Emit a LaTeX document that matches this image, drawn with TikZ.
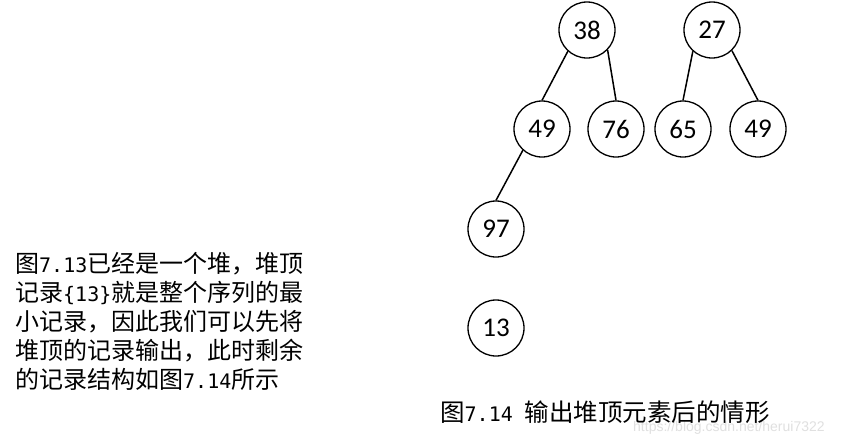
\documentclass[tikz,border=0pt]{standalone}
\usepackage{fontspec}
\setmainfont{Noto Sans CJK SC}
\newfontfamily\cjkfont{Noto Sans CJK SC}
\newfontfamily\monofont{DejaVu Sans Mono}
\newfontfamily\numfont{Carlito}
\newfontfamily\wmfont{Liberation Sans}
\newcommand{\mono}[1]{{\monofont\fontsize{20}{24}\selectfont #1}}
\tikzset{
  heapnode/.style={circle, draw=black, line width=1.3pt, minimum size=56pt, inner sep=0pt,
    font=\numfont\fontsize{27}{32}\selectfont},
  edge/.style={line width=1.5pt, black},
  textline/.style={anchor=base west, inner sep=0pt, font=\cjkfont\fontsize{24}{29}\selectfont},
  captext/.style={anchor=base west, inner sep=0pt, font=\cjkfont\fontsize{24.5}{29}\selectfont},
}
\begin{document}
\begin{tikzpicture}[x=1pt,y=-1pt]
\useasboundingbox (0,0) rectangle (859,445);
\fill[white] (0,0) rectangle (859,445);
% watermark (behind)
\node[anchor=base west, inner sep=0pt, text=black!12, font=\wmfont\fontsize{14}{17}\selectfont] (wm) at (633,431) {https://blog.csdn.net/herui7322};
% heap nodes
\node[heapnode] (n38) at (587,30) {38};
\node[heapnode] (n27) at (712,30) {27};
\node[heapnode] (n49a) at (542,129) {49};
\node[heapnode] (n76) at (616,129) {76};
\node[heapnode] (n65) at (683,129) {65};
\node[heapnode] (n49b) at (758,129) {49};
\node[heapnode] (n97) at (496,229) {97};
\node[heapnode] (n13) at (496,328) {13};
% edges
\draw[edge] (n38.228) -- (n49a.north);
\draw[edge] (n38.-44) -- (n76.north);
\draw[edge] (n27.228) -- (n65.north);
\draw[edge] (n27.-46) -- (n49b.north);
\draw[edge] (n49a.228) -- (n97.north);
% left text
\node[textline] (t1) at (15,272) {图\mono{7.13}已经是一个堆，堆顶};
\node[textline] (t2) at (15,301) {记录\mono{\{13\}}就是整个序列的最};
\node[textline] (t3) at (15,330) {小记录，因此我们可以先将};
\node[textline] (t4) at (15,359) {堆顶的记录输出，此时剩余};
\node[textline] (t5) at (15,388) {的记录结构如图\mono{7.14}所示};
% caption
\node[captext] (cap) at (440,421) {图\mono{7.14 }输出堆顶元素后的情形};
\end{tikzpicture}
\end{document}
